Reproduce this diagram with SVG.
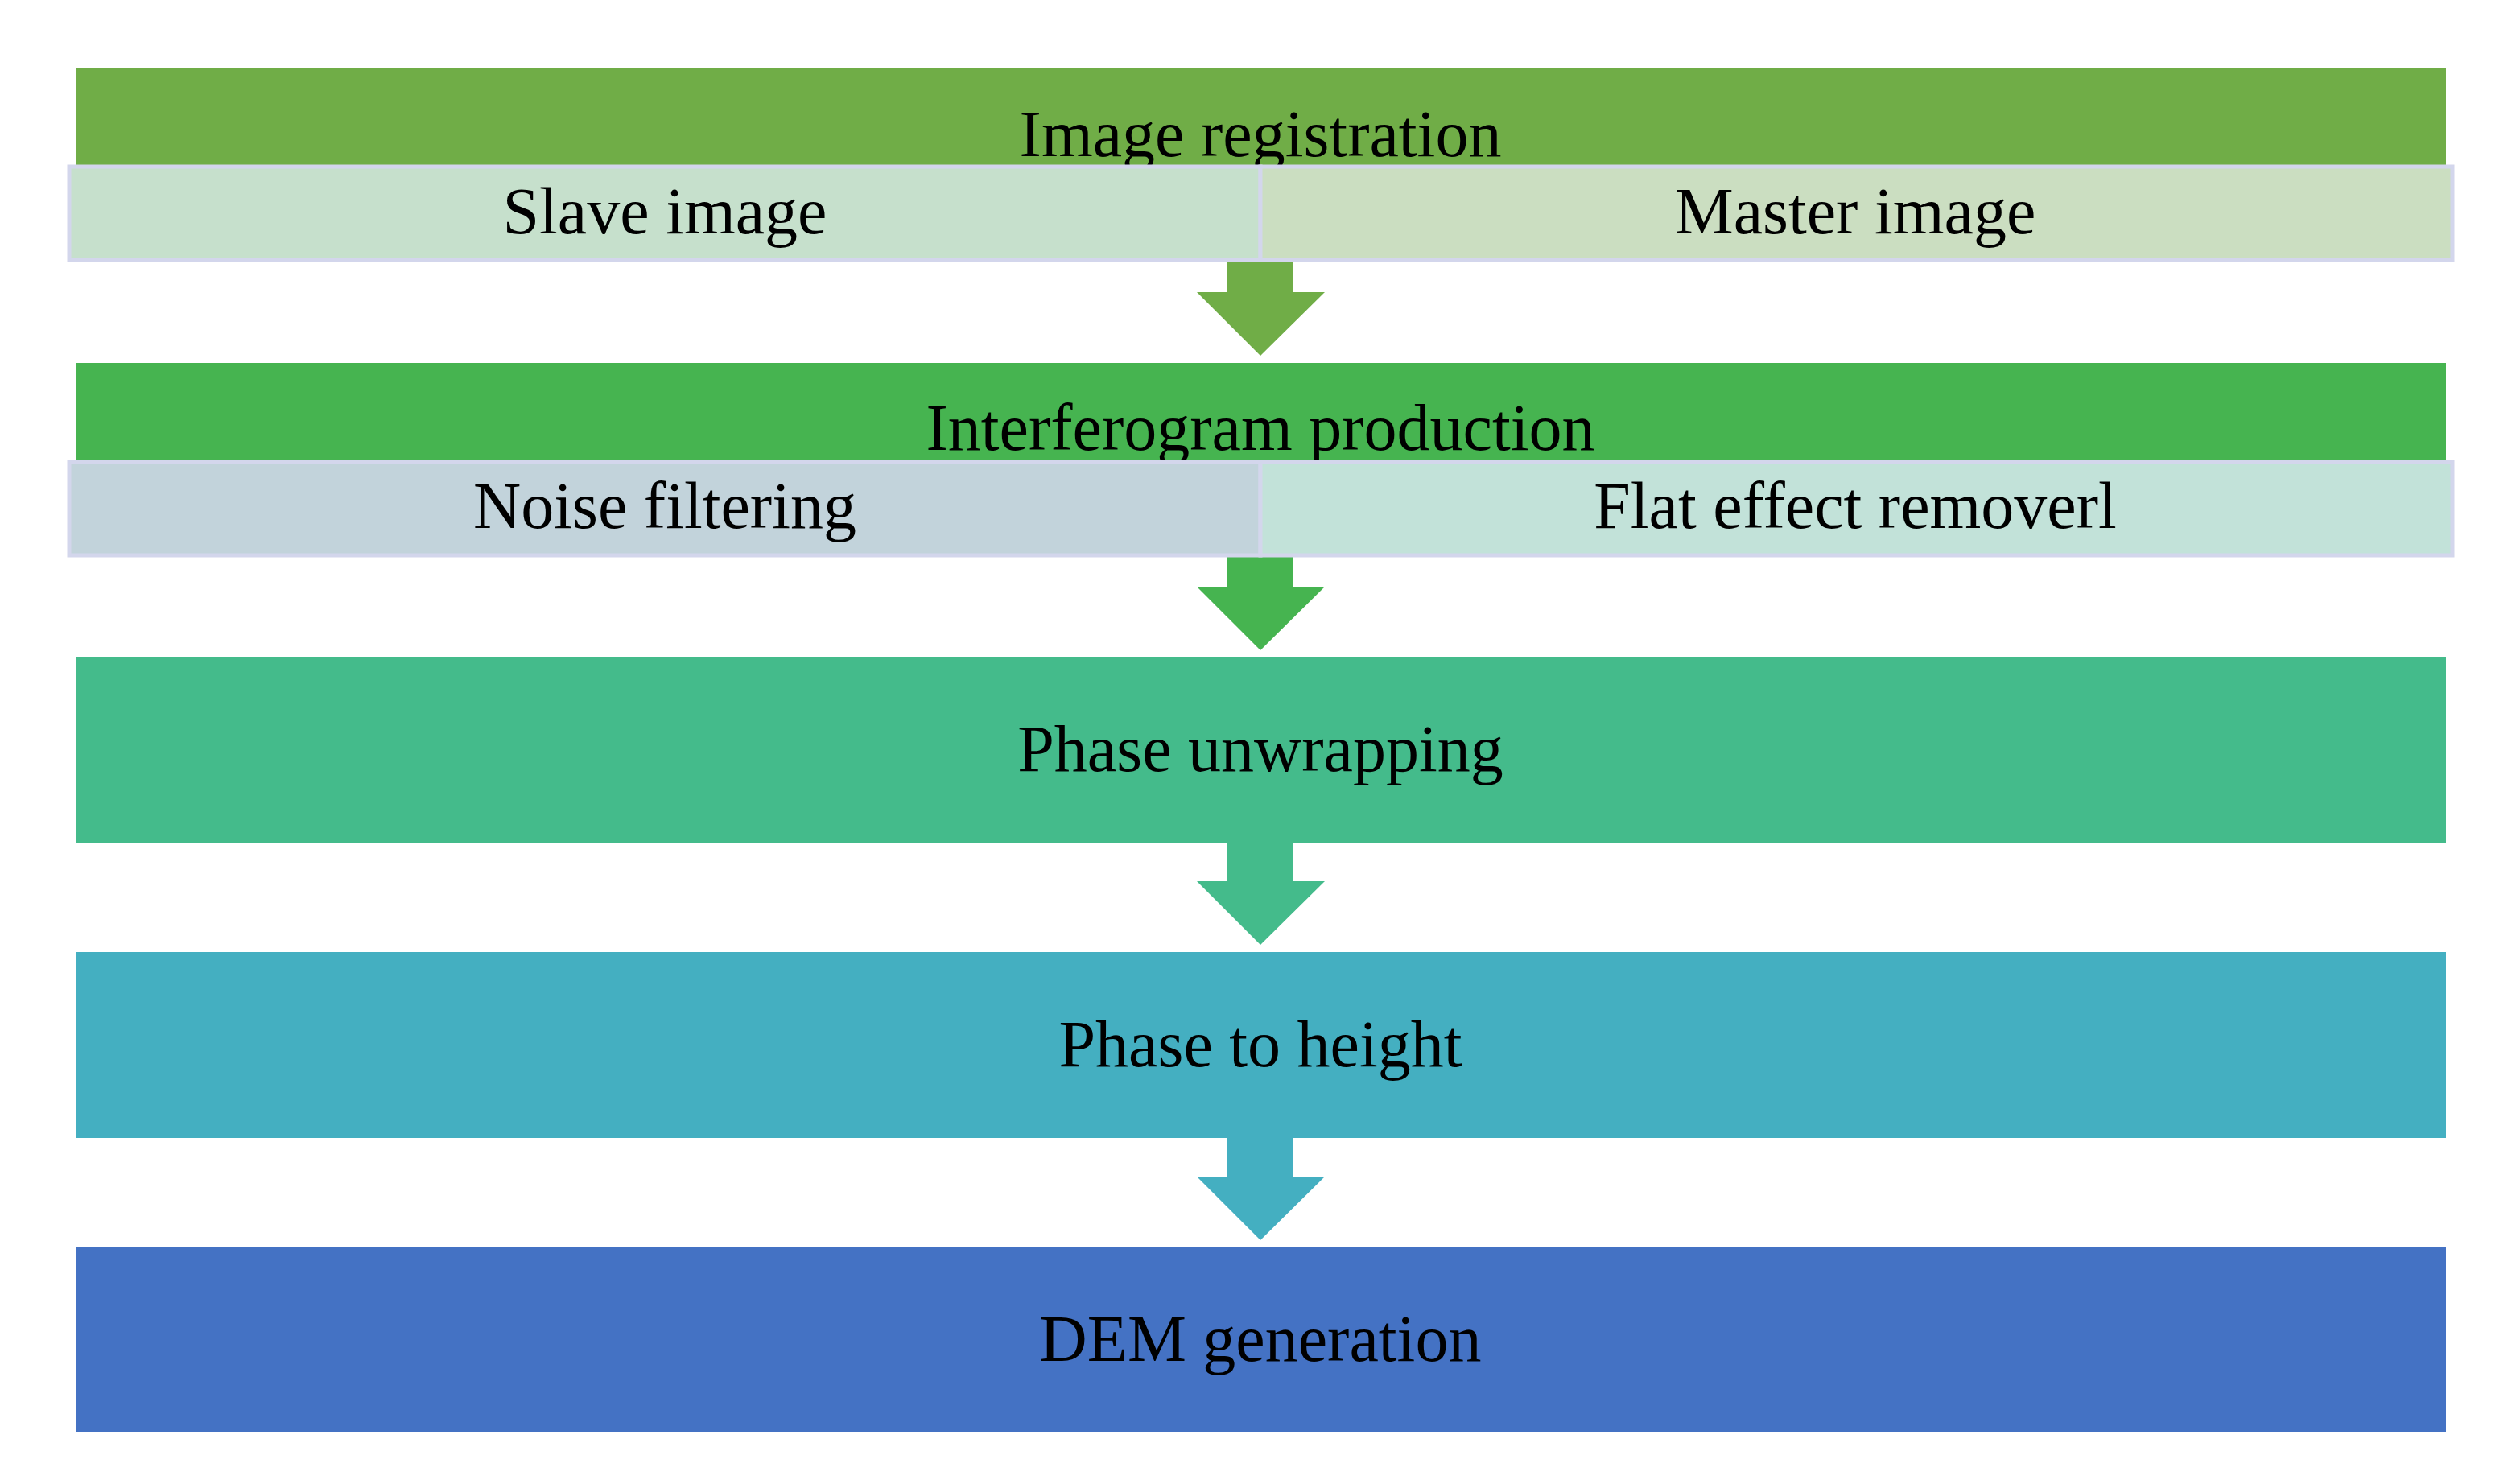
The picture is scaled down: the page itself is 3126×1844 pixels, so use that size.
<svg xmlns="http://www.w3.org/2000/svg" width="3126" height="1844" viewBox="0 0 3126 1844">
<style>
text{font-family:"Liberation Serif",serif;font-size:82px;fill:#000;text-anchor:middle}
.sub{stroke:#D3D6EC;stroke-width:5}
</style>
<rect width="3126" height="1844" fill="#fff"/>
<g id="connectors">
<polygon points="1525,322 1607,322 1607,363 1646,363 1566,442 1487,363 1525,363" fill="#70AD47"/>
<polygon points="1525,690 1607,690 1607,729 1646,729 1566,808 1487,729 1525,729" fill="#46B450"/>
<polygon points="1525,1047 1607,1047 1607,1095 1646,1095 1566,1174 1487,1095 1525,1095" fill="#44BB8B"/>
<polygon points="1525,1414 1607,1414 1607,1462 1646,1462 1566,1541 1487,1462 1525,1462" fill="#44AFC1"/>
</g>
<g id="n1"><rect x="94" y="84" width="2945" height="125" fill="#70AD47"/><text x="1566" y="194">Image registration</text></g>
<g id="n1a"><rect class="sub" x="86" y="207" width="1480" height="116" fill="#C6E0CC"/><text x="826" y="290">Slave image</text></g>
<g id="n1b"><rect class="sub" x="1566" y="207" width="1481" height="116" fill="#CBDEC1"/><text x="2305" y="290">Master image</text></g>
<g id="n2"><rect x="94" y="451" width="2945" height="125" fill="#46B450"/><text x="1566" y="559">Interferogram production</text></g>
<g id="n2a"><rect class="sub" x="86" y="574" width="1480" height="116" fill="#C2D3DB"/><text x="826" y="656">Noise filtering</text></g>
<g id="n2b"><rect class="sub" x="1566" y="574" width="1481" height="116" fill="#C2E2D9"/><text x="2305" y="656">Flat effect removerl</text></g>
<g id="n3"><rect x="94" y="816" width="2945" height="231" fill="#44BB8B"/><text x="1566" y="958">Phase unwrapping</text></g>
<g id="n4"><rect x="94" y="1183" width="2945" height="231" fill="#44AFC1"/><text x="1566" y="1325">Phase to height</text></g>
<g id="n5"><rect x="94" y="1549" width="2945" height="231" fill="#4472C4"/><text x="1566" y="1691">DEM generation</text></g>
</svg>
